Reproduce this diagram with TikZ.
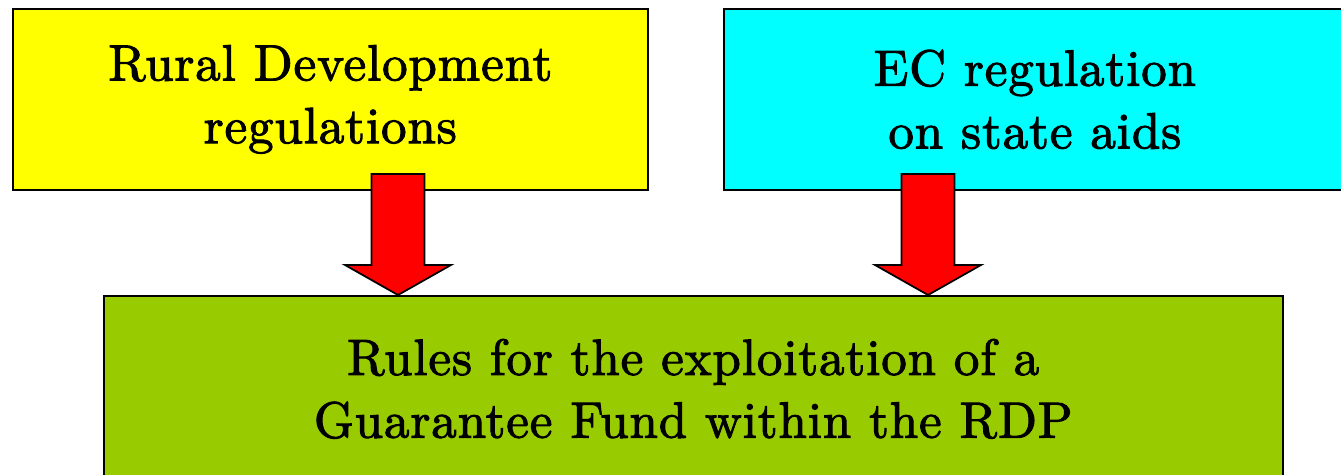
\documentclass[tikz,border=0pt]{standalone}
\usepackage{fontspec}
\usetikzlibrary{positioning,calc}

\newfontfamily\lettres{lmroman10-regular.otf}[LetterSpace=1.8,FakeBold=2]

\definecolor{jaune}{HTML}{FFFF00}
\definecolor{cyanvif}{HTML}{00FFFF}
\definecolor{vert}{HTML}{99CC00}
\definecolor{rouge}{HTML}{FF0000}

\begin{document}
\begin{tikzpicture}[x=0.02cm,y=0.02cm,
                    every node/.style={inner sep=0pt,align=center,
                                       font=\lettres\fontsize{29}{35.7}\selectfont},
                    boite/.style={draw,line width=1pt,anchor=north west},
                    fleche/.style={draw,line width=1pt,fill=rouge,line join=miter}]
   \clip (0,0) rectangle (1341,-474);
   \node (regdev) [boite,fill=jaune,minimum width=12.7cm,minimum height=3.62cm]
         at (12,-8) {Rural Development\\regulations};
   \node (regetat) [boite,fill=cyanvif,minimum width=12.44cm,minimum height=3.62cm]
         at (723,-8) {EC regulation\\ on state aids};
   \node (regles) [boite,fill=vert,minimum width=23.58cm,minimum height=3.72cm]
         at (103,-295) {Rules for the exploitation of a\\Guarantee Fund within the RDP};
   \coordinate (pointe1) at ($(regles.north west)+(295,0)$);
   \coordinate (pointe2) at ($(regles.north west)+(825,0)$);
   \foreach \p in {pointe1,pointe2}
     \draw [fleche] (\p) -- ++(-53,30) -- ++(26.5,0) -- ++(0,91) -- ++(53,0)
                    -- ++(0,-91) -- ++(26.5,0) -- cycle;
\end{tikzpicture}
\end{document}
